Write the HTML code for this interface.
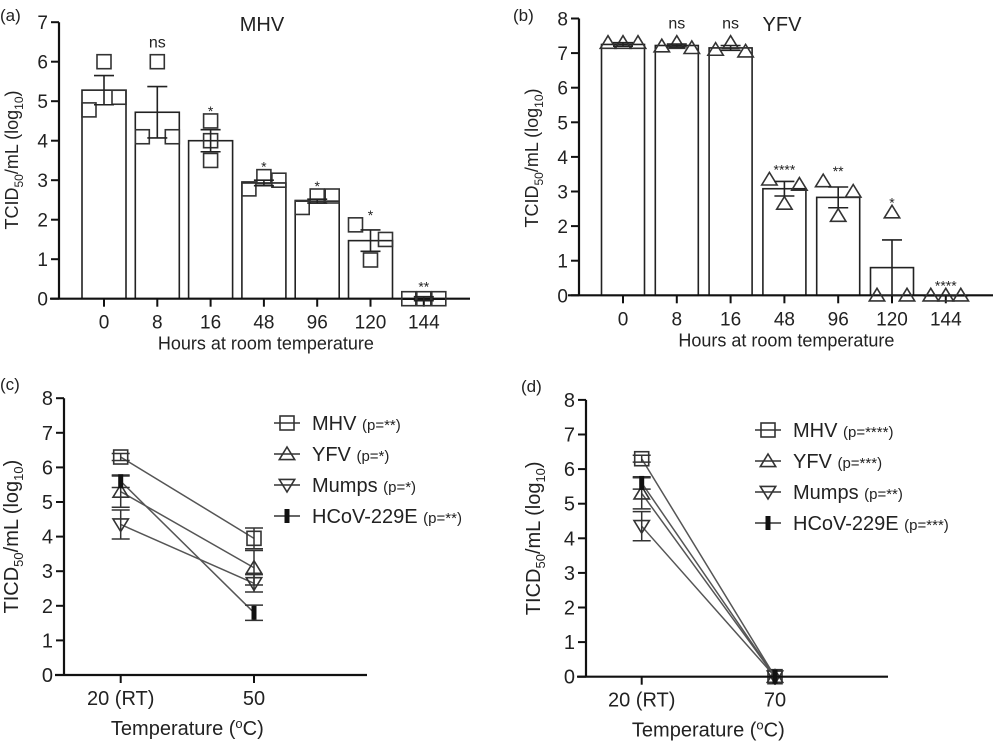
<!DOCTYPE html>
<html><head><meta charset="utf-8"><style>
body{margin:0;background:#fff;}
svg{display:block;font-family:"Liberation Sans",sans-serif;}
</style></head><body>
<svg id="fig" width="999" height="742" viewBox="0 0 999 742" xmlns="http://www.w3.org/2000/svg"></svg>
<script>
// ---- Panel A (MHV) data ----
const aCats = ["0","8","16","48","96","120","144"];
const aMeans = [5.28,4.72,4.0,2.93,2.47,1.47,0];
const aSD = [0.37,0.65,0.28,0.07,0.05,0.27,0.05];
const aPts = [[4.78,6.0,5.1],[4.1,6.0,4.1],[4.5,4.0,3.5],[2.78,3.09,3.0],[2.31,2.6,2.6],[1.87,0.98,1.5],[0,0,0]];
const aSig = ["","ns","*","*","*","*","**"];
const aTicks = [0,1,2,3,4,5,6,7];
// ---- Panel B (YFV) data ----
const bCats = ["0","8","16","48","96","120","144"];
const bMeans = [7.25,7.22,7.15,3.08,2.83,0.8,0];
const bSD = [0.05,0.04,0.07,0.21,0.3,0.8,0];
const bPts = [[7.3,7.3,7.3],[7.2,7.3,7.15],[7.1,7.3,7.05],[3.35,2.65,3.2],[3.3,2.3,3.0],[0,2.4,0],[0,0,0]];
const bSig = ["","ns","ns","****","**","*","****"];
const bTicks = [0,1,2,3,4,5,6,7,8];
// ---- Panel C data ----
const cCats = ["20 (RT)","50"];
const cMHV = [6.3,3.95], cMHVsd = [0.1,0.3];
const cYFV = [5.3,3.1], cYFVsd = [0.45,0.5];
const cMumps = [4.35,2.65], cMumpssd = [0.42,0.25];
const cHCoV = [5.6,1.8], cHCoVsd = [0.18,0.22];
const cP = ["(p=**)","(p=*)","(p=*)","(p=**)"];
// ---- Panel D data ----
const dCats = ["20 (RT)","70"];
const dMHV = [6.3,0], dMHVsd = [0.1,0];
const dYFV = [5.3,0], dYFVsd = [0.45,0];
const dMumps = [4.35,0], dMumpssd = [0.42,0];
const dHCoV = [5.6,0], dHCoVsd = [0.18,0];
const dP = ["(p=****)","(p=***)","(p=**)","(p=***)"];
const cdTicks = [0,1,2,3,4,5,6,7,8];
const seriesNames = ["MHV","YFV","Mumps","HCoV-229E"];

const NS="http://www.w3.org/2000/svg";
const svg=document.getElementById('fig');
function mk(tag,attrs,parent,txt){const e=document.createElementNS(NS,tag);for(const k in attrs)e.setAttribute(k,attrs[k]);if(txt!==undefined)e.textContent=txt;(parent||svg).appendChild(e);return e;}
function text(x,y,s,size,anchor,parent,name){const t=mk('text',{x:x,y:y,'font-size':size,'text-anchor':anchor||'middle',fill:'#222'},parent,s);

return t;}
function marker(g,type,x,y,r,fill){
 let e;
 if(type==='sq') e=mk('rect',{x:x-r,y:y-r,width:2*r,height:2*r,fill:fill||'none',stroke:'#333','stroke-width':1.6},g);
 else if(type==='tri') e=mk('polygon',{points:`${x},${y-r} ${x-r*1.1},${y+r*0.8} ${x+r*1.1},${y+r*0.8}`,fill:fill||'none',stroke:'#333','stroke-width':1.6},g);
 else if(type==='itri') e=mk('polygon',{points:`${x},${y+r} ${x-r*1.1},${y-r*0.8} ${x+r*1.1},${y-r*0.8}`,fill:fill||'none',stroke:'#333','stroke-width':1.6},g);
 else e=mk('rect',{x:x-2.5,y:y-r,width:5,height:2*r,fill:'#111'},g);
 
 
 return e;
}
function yAxis(g,ax,x0,ticks,ystart,fs){
 mk('line',{x1:ax,y1:ystart(ticks[0])+0,x2:ax,y2:ystart(ticks[ticks.length-1]),stroke:'#111','stroke-width':2.2},g);
 ticks.forEach(t=>{const y=ystart(t);mk('line',{x1:ax-8,y1:y,x2:ax,y2:y,stroke:'#111','stroke-width':2},g);
  text(ax-11,y+7,String(t),fs||19,'end',g,'y-tick-label');});
}
function panelLabel(x,y,s){text(x,y,s,17,'start',svg,'panel-label');}

function barPanel(name,ox,axX,y0,unit,xL,xR,c0,step,bw,cats,means,sd,pts,sig,ticks,mtype,title,titleX,ylabY){
 const g=mk('g',{});
 
 
 const Y=v=>y0-v*unit, X=i=>c0+i*step;
 cats.forEach((c,i)=>{
  const b=mk('rect',{x:X(i)-bw/2,y:Y(means[i]),width:bw,height:Math.max(0.5,y0-Y(means[i])),fill:'#fff',stroke:'#222','stroke-width':1.6},g);
  
  
 });
 mk('line',{x1:xL,y1:y0,x2:xR,y2:y0,stroke:'#111','stroke-width':2.2},g);
 cats.forEach((c,i)=>{
  mk('line',{x1:X(i),y1:y0,x2:X(i),y2:y0+8,stroke:'#111','stroke-width':2},g);
  text(X(i),y0+30,c,19,'middle',g,'x-tick-label');
  const off=15;
  pts[i].forEach((v,j)=>{const dx= (name==='panel-a' && i===2)?0:(j-1)*off; marker(g,mtype,X(i)+dx,Y(v),7);});
  const hi=Y(means[i]+sd[i]),lo=Y(means[i]-sd[i]);
  mk('line',{x1:X(i),y1:hi,x2:X(i),y2:lo,stroke:'#222','stroke-width':1.6},g);
  mk('line',{x1:X(i)-10,y1:hi,x2:X(i)+10,y2:hi,stroke:'#222','stroke-width':1.6},g);
  mk('line',{x1:X(i)-10,y1:lo,x2:X(i)+10,y2:lo,stroke:'#222','stroke-width':1.6},g);
  if(sig[i]){const top=Math.max(...pts[i],means[i]+sd[i]);
   const yy=sig[i]==='ns'?Y(top)-14:Y(top)-9;
   text(X(i),sig[i]==='ns'?yy:yy+4,sig[i],sig[i]==='ns'?16:14,'middle',g,'significance-label');}
 });
 yAxis(g,axX,0,ticks,Y);
 text(titleX,31,title,20,'middle',g,'chart-title');
 const yt=mk('text',{x:0,y:0,'font-size':18,'text-anchor':'middle',fill:'#222',transform:`translate(${axX-41},${ylabY}) rotate(-90)`},g);
 
 
 yt.innerHTML='TCID<tspan font-size="12" dy="5">50</tspan><tspan dy="-5">/mL (log</tspan><tspan font-size="12" dy="5">10</tspan><tspan dy="-5">)</tspan>';
 text((c0+X(cats.length-1))/2+2,y0+51,'Hours at room temperature',18,'middle',g,'x-axis-title');
}
barPanel('panel-a',0,59,298.7,39.5,50,470,104,53.3,44,aCats,aMeans,aSD,aPts,aSig,aTicks,'sq','MHV',262,160);
barPanel('panel-b',500,579,295.3,34.6,568,993,623,53.8,43,bCats,bMeans,bSD,bPts,bSig,bTicks,'tri','YFV',782,158);
panelLabel(0,21,'(a)');panelLabel(513,21,'(b)');

function linePanel(name,axX,y0,unit,xL,xR,x1,x2,cats,series,sds,pvals,legX,legY){
 const g=mk('g',{});
 
 
 const Y=v=>y0-v*unit, xs=[x1,x2];
 const types=['sq','tri','itri','bar'];
 series.forEach((s,k)=>{
  const l=mk('line',{x1:xs[0],y1:Y(s[0]),x2:xs[1],y2:Y(s[1]),stroke:'#555','stroke-width':1.5},g);
  
  
  s.forEach((v,i)=>{
   const sd=sds[k][i];
   if(sd>0){const hi=Y(v+sd),lo=Y(v-sd);
    mk('line',{x1:xs[i],y1:hi,x2:xs[i],y2:lo,stroke:'#333','stroke-width':1.5},g);
    mk('line',{x1:xs[i]-9,y1:hi,x2:xs[i]+9,y2:hi,stroke:'#333','stroke-width':1.5},g);
    mk('line',{x1:xs[i]-9,y1:lo,x2:xs[i]+9,y2:lo,stroke:'#333','stroke-width':1.5},g);}
   marker(g,types[k],xs[i],Y(v),7);
  });
 });
 mk('line',{x1:xL,y1:y0,x2:xR,y2:y0,stroke:'#111','stroke-width':2.2},g);
 cats.forEach((c,i)=>{mk('line',{x1:xs[i],y1:y0,x2:xs[i],y2:y0+8,stroke:'#111','stroke-width':2},g);
  text(xs[i],y0+30,c,20,'middle',g,'x-tick-label');});
 yAxis(g,axX,0,cdTicks,Y,20);
 const yt=mk('text',{x:0,y:0,'font-size':20,'text-anchor':'middle',fill:'#222',transform:`translate(${axX-46},${(y0+Y(8))/2}) rotate(-90)`},g);
 
 
 yt.innerHTML='TICD<tspan font-size="13" dy="5">50</tspan><tspan dy="-5">/mL (log</tspan><tspan font-size="13" dy="5">10</tspan><tspan dy="-5">)</tspan>';
 const xt=mk('text',{x:(x1+x2)/2,y:y0+60,'font-size':20,'text-anchor':'middle',fill:'#222'},g);
 
 
 xt.innerHTML='Temperature (<tspan font-size="13" dy="-7">o</tspan><tspan dy="7">C)</tspan>';
 seriesNames.forEach((n,k)=>{
  const lg=mk('g',{},g);
  
  
  const y=legY+k*31;
  mk('line',{x1:legX-13,y1:y,x2:legX+13,y2:y,stroke:'#333','stroke-width':1.5},lg);
  marker(lg,types[k],legX,y,7);
  const t=mk('text',{x:legX+25,y:y+7,'font-size':20,fill:'#222'},lg);
  
  
  t.innerHTML=n+' <tspan font-size="15">'+pvals[k]+'</tspan>';
 });
}
linePanel('panel-c',64,675,34.6,55,367,120.7,254,cCats,[cMHV,cYFV,cMumps,cHCoV],[cMHVsd,cYFVsd,cMumpssd,cHCoVsd],cP,287,423);
linePanel('panel-d',586,676.7,34.6,577,888,641.7,775,dCats,[dMHV,dYFV,dMumps,dHCoV],[dMHVsd,dYFVsd,dMumpssd,dHCoVsd],dP,768,430);
panelLabel(0,390,'(c)');panelLabel(521,392,'(d)');
</script>
</body></html>
